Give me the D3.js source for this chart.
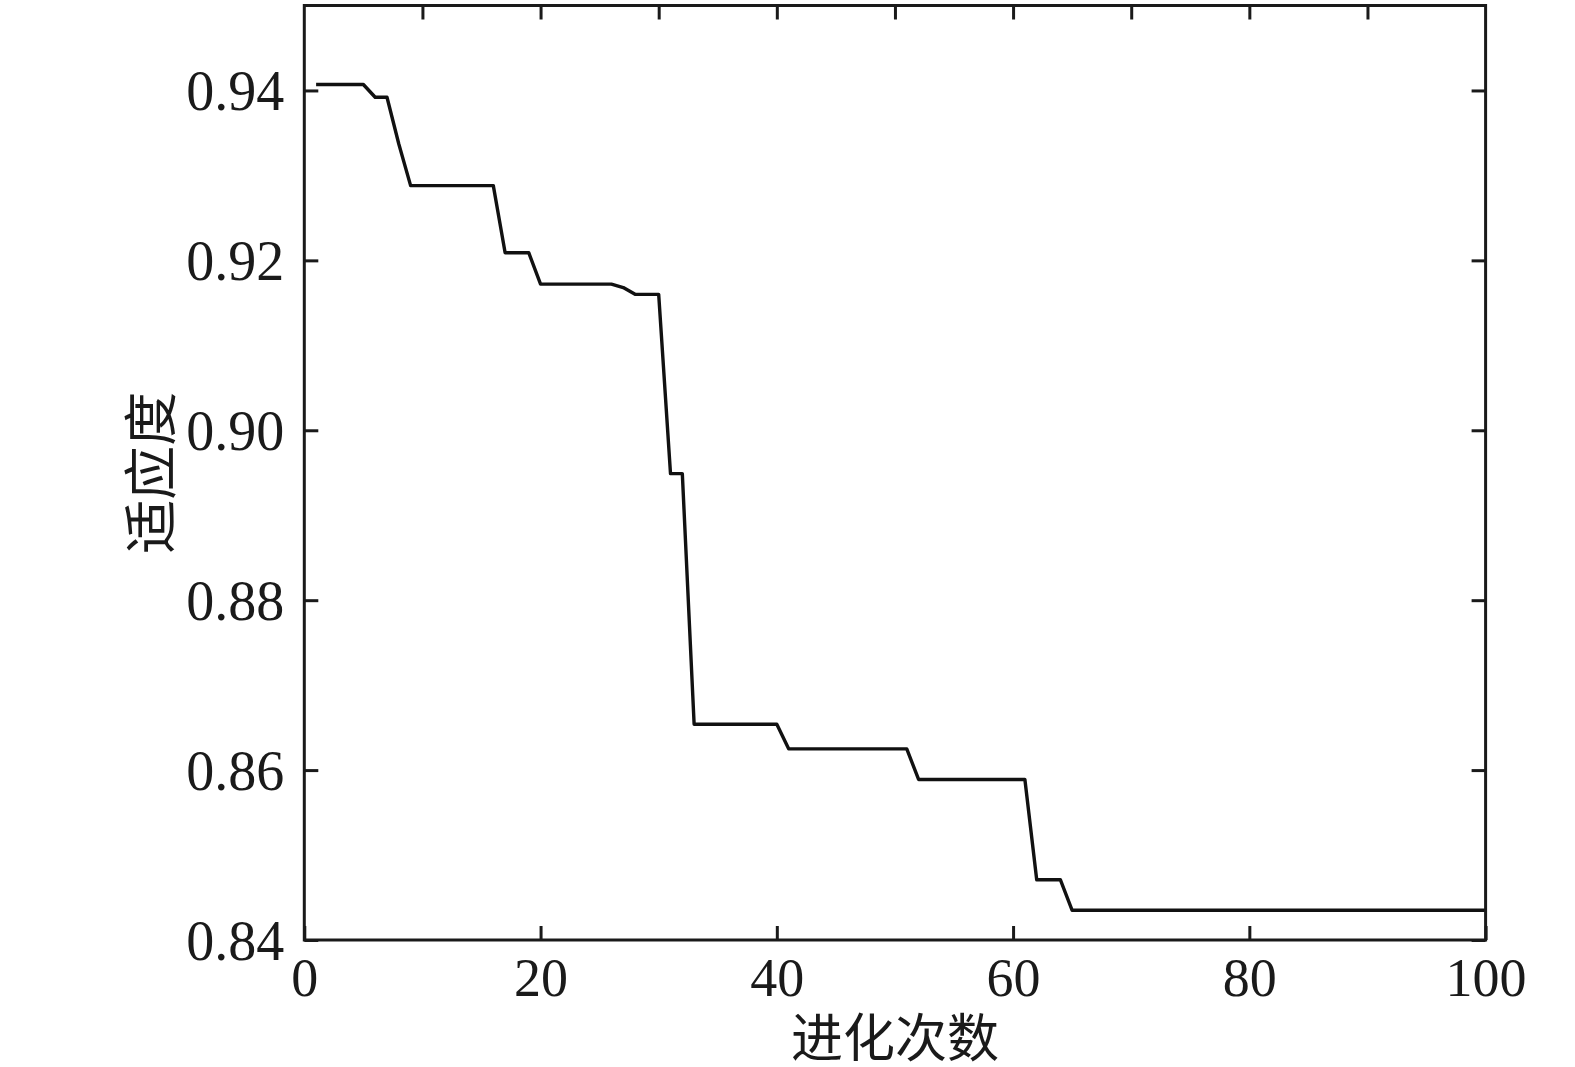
<!DOCTYPE html>
<html>
<head>
<meta charset="utf-8">
<script src="https://cdn.jsdelivr.net/npm/d3@7"></script>
<style>
  html, body { margin: 0; padding: 0; background: #fff; }
  svg { display: block; }
</style>
</head>
<body>
<svg id="chart" width="1575" height="1067"></svg>
<script>
// ---- data ----
const generations = [
  1,2,3,4,5,6,7,8,9,10,11,12,13,14,15,16,17,18,19,20,
  21,22,23,24,25,26,27,28,29,30,31,32,33,34,35,36,37,38,39,40,
  41,42,43,44,45,46,47,48,49,50,51,52,53,54,55,56,57,58,59,60,
  61,62,63,64,65,66,67,68,69,70,71,72,73,74,75,76,77,78,79,80,
  81,82,83,84,85,86,87,88,89,90,91,92,93,94,95,96,97,98,99,100
];
const fitness = [
  0.9407,0.9407,0.9407,0.9407,0.9407,0.9392,0.9392,0.9337,0.9288,0.9288,
  0.9288,0.9288,0.9288,0.9288,0.9288,0.9288,0.9209,0.9209,0.9209,0.9172,
  0.9172,0.9172,0.9172,0.9172,0.9172,0.9172,0.9168,0.9160,0.9160,0.9160,
  0.8949,0.8949,0.8654,0.8654,0.8654,0.8654,0.8654,0.8654,0.8654,0.8654,
  0.8625,0.8625,0.8625,0.8625,0.8625,0.8625,0.8625,0.8625,0.8625,0.8625,
  0.8625,0.8589,0.8589,0.8589,0.8589,0.8589,0.8589,0.8589,0.8589,0.8589,
  0.8589,0.8471,0.8471,0.8471,0.8435,0.8435,0.8435,0.8435,0.8435,0.8435,
  0.8435,0.8435,0.8435,0.8435,0.8435,0.8435,0.8435,0.8435,0.8435,0.8435,
  0.8435,0.8435,0.8435,0.8435,0.8435,0.8435,0.8435,0.8435,0.8435,0.8435,
  0.8435,0.8435,0.8435,0.8435,0.8435,0.8435,0.8435,0.8435,0.8435,0.8435
];
const xTicksBottom = [0, 20, 40, 60, 80, 100];
const xTicksTop = [10, 20, 30, 40, 50, 60, 70, 80, 90];
const yTicks = [0.84, 0.86, 0.88, 0.90, 0.92, 0.94];
const xLabel = "进化次数";
const yLabel = "适应度";

// ---- layout ----
const pL = 304.3, pR = 1485.6, pT = 5.5, pB = 940;
const svg = d3.select("#chart");
const x = d3.scaleLinear().domain([0, 100]).range([pL, pR]);
const y = d3.scaleLinear().domain([0.84, 0.95]).range([pB, pT]);

const ink = "#1a1a1a";
const tickLen = 14;
const numFont = "'Liberation Serif', 'Times New Roman', serif";
const cjkFont = "'Noto Sans CJK SC', sans-serif";

// line
const line = d3.line()
  .x((d, i) => x(generations[i]))
  .y(d => y(d));
svg.append("path")
  .datum(fitness)
  .attr("d", line)
  .attr("fill", "none")
  .attr("stroke", "#111")
  .attr("stroke-width", 3.4)
  .attr("stroke-linejoin", "round");

// axes (ticks inward)
function styleAxis(g) {
  g.select(".domain").remove();
  g.selectAll(".tick line").attr("stroke", ink).attr("stroke-width", 3);
  g.selectAll(".tick text")
    .attr("font-family", numFont)
    .attr("font-size", 54)
    .attr("fill", ink);
}

const axB = d3.axisBottom(x).tickValues(xTicksBottom).tickSizeInner(-tickLen).tickSizeOuter(0)
  .tickPadding(0).tickFormat(d3.format("d"));
const gB = svg.append("g").attr("transform", `translate(0,${pB})`).call(axB);
styleAxis(gB);
gB.selectAll(".tick text").attr("dy", null).attr("y", 56);

const axT = d3.axisTop(x).tickValues(xTicksTop).tickSizeInner(-tickLen).tickSizeOuter(0).tickFormat("");
const gT = svg.append("g").attr("transform", `translate(0,${pT})`).call(axT);
styleAxis(gT);

const axL = d3.axisLeft(y).tickValues(yTicks).tickSizeInner(-tickLen).tickSizeOuter(0)
  .tickPadding(0).tickFormat(d3.format(".2f"));
const gL = svg.append("g").attr("transform", `translate(${pL},0)`).call(axL);
styleAxis(gL);
gL.selectAll(".tick text").attr("x", -20).attr("dy", "0.34em").attr("font-size", 56);

const axR = d3.axisRight(y).tickValues(yTicks).tickSizeInner(-tickLen).tickSizeOuter(0).tickFormat("");
const gR = svg.append("g").attr("transform", `translate(${pR},0)`).call(axR);
styleAxis(gR);

// frame
svg.append("rect")
  .attr("x", pL).attr("y", pT)
  .attr("width", pR - pL).attr("height", pB - pT)
  .attr("fill", "none").attr("stroke", ink).attr("stroke-width", 3);

// axis labels
svg.append("text")
  .attr("x", (pL + pR) / 2).attr("y", 1057)
  .attr("text-anchor", "middle")
  .attr("font-family", cjkFont).attr("font-size", 52)
  .attr("fill", ink)
  .text(xLabel);

svg.append("text")
  .attr("transform", `translate(171,${(pT + pB) / 2}) rotate(-90)`)
  .attr("text-anchor", "middle")
  .attr("font-family", cjkFont).attr("font-size", 54)
  .attr("fill", ink)
  .text(yLabel);
</script>
</body>
</html>
